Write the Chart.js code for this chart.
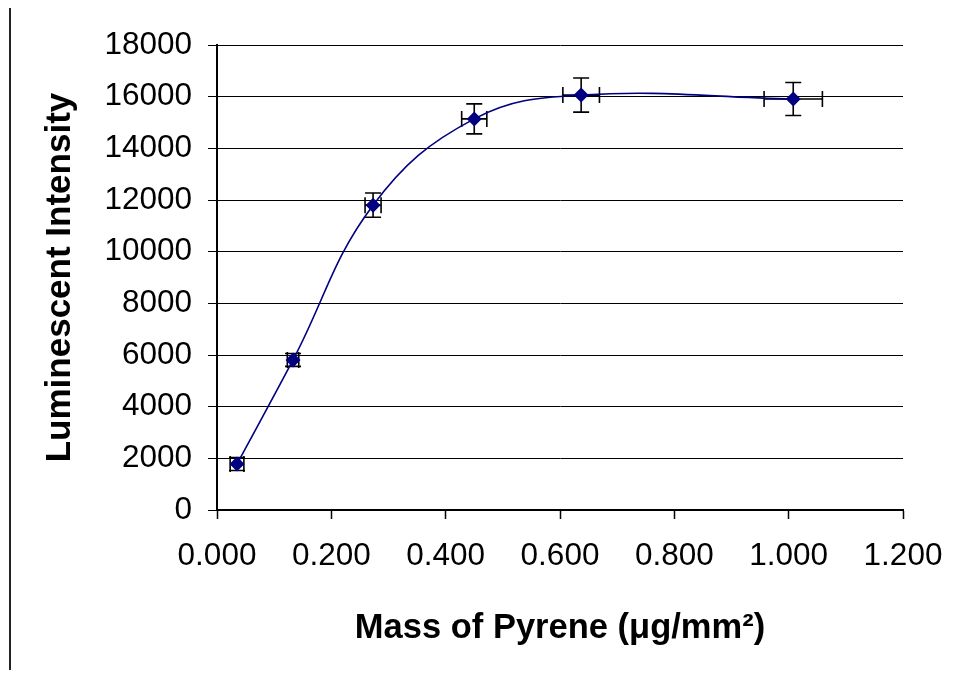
<!DOCTYPE html>
<html>
<head>
<meta charset="utf-8">
<script src="https://cdn.jsdelivr.net/npm/chart.js@4/dist/chart.umd.min.js"></script>
<style>
  html, body { margin: 0; padding: 0; background: #fff; }
  #wrap { position: relative; width: 954px; height: 675px; }
  #frame { position: absolute; left: 9px; top: 8px; width: 2px; height: 662px; background: #222; }
  canvas { position: absolute; left: 0; top: 0; }
</style>
</head>
<body>
<div id="wrap">
  <canvas id="c" width="954" height="675"></canvas>
  <div id="frame"></div>
</div>
<script>
// Data
const massPyrene = [0.035, 0.133, 0.273, 0.450, 0.637, 1.008];
const intensity = [1780, 5810, 11800, 15140, 16060, 15910];
const massErr = [0.012, 0.010, 0.014, 0.022, 0.032, 0.051];
const intensityErr = [250, 250, 470, 580, 660, 640];
const xTickMin = 0, xTickMax = 1.2, xStep = 0.2;
const yTickMin = 0, yTickMax = 18000, yStep = 2000;
const xTitle = 'Mass of Pyrene (\u03bcg/mm\u00b2)';
const yTitle = 'Luminescent Intensity';

const points = massPyrene.map((x, i) => ({ x: x, y: intensity[i] }));

const errorBars = {
  id: 'errorBars',
  beforeDatasetsDraw(chart) {
    const ctx = chart.ctx;
    const xs = chart.scales.x, ys = chart.scales.y;
    const cap = 8;
    ctx.save();
    ctx.strokeStyle = '#000';
    ctx.lineWidth = 1.6;
    massPyrene.forEach((mx, i) => {
      const px = xs.getPixelForValue(mx);
      const py = ys.getPixelForValue(intensity[i]);
      const yTop = ys.getPixelForValue(intensity[i] + intensityErr[i]);
      const yBot = ys.getPixelForValue(intensity[i] - intensityErr[i]);
      const xL = xs.getPixelForValue(mx - massErr[i]);
      const xR = xs.getPixelForValue(mx + massErr[i]);
      ctx.beginPath();
      ctx.moveTo(px, yTop); ctx.lineTo(px, yBot);
      ctx.moveTo(px - cap, yTop); ctx.lineTo(px + cap, yTop);
      ctx.moveTo(px - cap, yBot); ctx.lineTo(px + cap, yBot);
      ctx.moveTo(xL, py); ctx.lineTo(xR, py);
      ctx.moveTo(xL, py - cap); ctx.lineTo(xL, py + cap);
      ctx.moveTo(xR, py - cap); ctx.lineTo(xR, py + cap);
      ctx.stroke();
    });
    ctx.restore();
  }
};

const FONT = '"Liberation Sans", Arial, sans-serif';

new Chart(document.getElementById('c'), {
  type: 'scatter',
  data: {
    datasets: [{
      data: points,
      showLine: true,
      tension: 0.4,
      borderColor: '#000080',
      borderWidth: 1.6,
      backgroundColor: '#000080',
      pointStyle: 'rectRot',
      pointRadius: 7.5,
      pointBorderWidth: 0,
      pointBackgroundColor: '#000080',
      fill: false
    }]
  },
  options: {
    responsive: false,
    animation: false,
    devicePixelRatio: 1,
    layout: { padding: { left: 0, top: 45, right: 51, bottom: 0 } },
    plugins: { legend: { display: false }, tooltip: { enabled: false } },
    scales: {
      x: {
        type: 'linear',
        min: xTickMin, max: xTickMax,
        afterFit(s) { s.height = 165; s.paddingRight = 30; s.paddingLeft = 0; },
        ticks: {
          stepSize: xStep,
          color: '#000',
          padding: 18,
          maxRotation: 0,
          font: { family: FONT, size: 31.5 },
          callback: v => Number(v).toFixed(3)
        },
        grid: { drawOnChartArea: false, drawTicks: true, tickLength: 9, tickColor: '#000', tickWidth: 1.5 },
        border: { display: true, color: '#000', width: 2 },
        title: {
          display: true, text: xTitle, color: '#000',
          font: { family: FONT, size: 34.5, weight: 'bold' },
          padding: { top: 0, bottom: 26 }
        }
      },
      y: {
        type: 'linear',
        min: yTickMin, max: yTickMax,
        afterFit(s) { s.width = 217; },
        ticks: {
          stepSize: yStep,
          color: '#000',
          padding: 16,
          font: { family: FONT, size: 31.5 },
          callback: v => String(v)
        },
        grid: { color: '#000', lineWidth: 1, drawTicks: true, tickLength: 9, tickColor: '#000' },
        border: { display: true, color: '#000', width: 2 },
        title: {
          display: true, text: yTitle, color: '#000',
          font: { family: FONT, size: 35, weight: 'bold' },
          padding: { top: 39, bottom: 0 }
        }
      }
    }
  },
  plugins: [errorBars]
});
</script>
</body>
</html>
